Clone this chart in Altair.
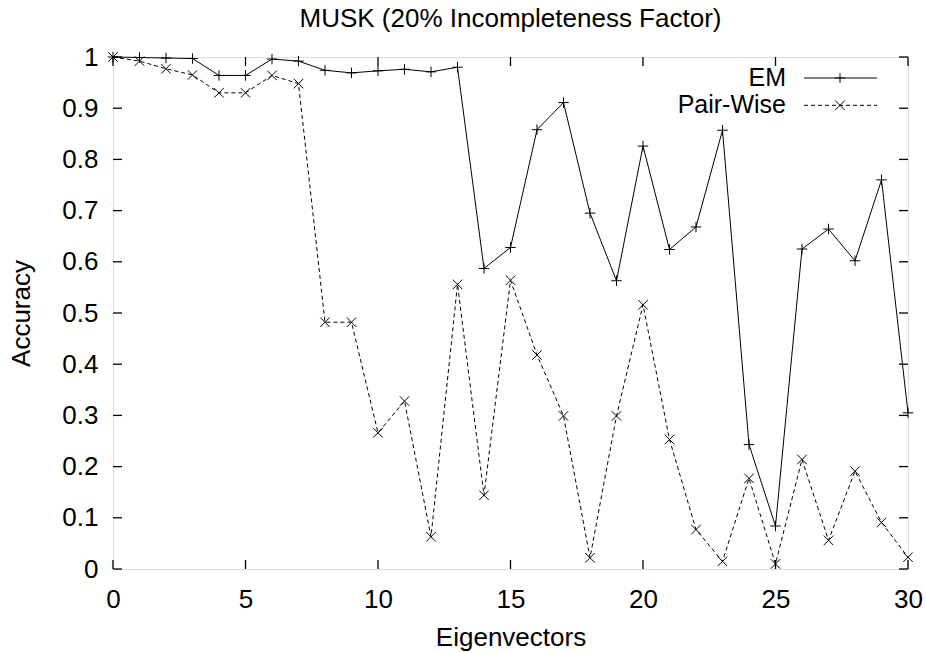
import altair as alt
import pandas as pd

# ---- data ----
eigenvectors = list(range(31))
em_acc = [1.0, 0.999, 0.998, 0.997, 0.964, 0.964, 0.996, 0.992, 0.974, 0.969,
          0.973, 0.976, 0.971, 0.980, 0.587, 0.628, 0.858, 0.911, 0.695, 0.563,
          0.826, 0.624, 0.668, 0.857, 0.243, 0.084, 0.625, 0.664, 0.602, 0.760,
          0.305]
pw_acc = [1.0, 0.992, 0.977, 0.965, 0.930, 0.930, 0.964, 0.948, 0.482, 0.482,
          0.266, 0.328, 0.063, 0.556, 0.144, 0.564, 0.418, 0.299, 0.022, 0.299,
          0.516, 0.253, 0.077, 0.015, 0.177, 0.010, 0.214, 0.056, 0.191, 0.091,
          0.023]
series_names = ["EM", "Pair-Wise"]
x_ticks = [0, 5, 10, 15, 20, 25, 30]
y_ticks = [0, 0.1, 0.2, 0.3, 0.4, 0.5, 0.6, 0.7, 0.8, 0.9, 1]
title_text = "MUSK (20% Incompleteness Factor)"
x_title = "Eigenvectors"
y_title = "Accuracy"

W, H = 795, 512
FONT = "Liberation Sans"
FS = 26
TICK = 9
PLUS = "M-1,0H1M0,-1V1"
CROSS = "M-1,-1L1,1M-1,1L1,-1"

df = pd.DataFrame({"x": eigenvectors, "em": em_acc, "pw": pw_acc})
xt = pd.DataFrame({"v": x_ticks})
yt = pd.DataFrame({"v": y_ticks})
leg_em = pd.DataFrame({"name": [series_names[0]]})
leg_pw = pd.DataFrame({"name": [series_names[1]]})

xs = alt.Scale(domain=[0, 30], nice=False, zero=False)
ys = alt.Scale(domain=[0, 1], nice=False, zero=False)

x_axis = alt.Axis(values=x_ticks, tickSize=0, domain=False, grid=False,
                  labelFont=FONT, labelFontSize=FS, labelColor="black",
                  labelPadding=17, labelFlush=False, labelOverlap=False,
                  title=x_title, titleFont=FONT, titleFontSize=FS,
                  titleFontWeight="normal", titleColor="black", titlePadding=12)
y_axis = alt.Axis(values=y_ticks, tickSize=0, domain=False, grid=False, format="~g",
                  labelFont=FONT, labelFontSize=FS, labelColor="black",
                  labelPadding=15, labelFlush=False, labelOverlap=False,
                  title=y_title, titleFont=FONT, titleFontSize=FS,
                  titleFontWeight="normal", titleColor="black", titlePadding=27)

base = alt.Chart(df)

em_line = base.mark_line(color="black", strokeWidth=1).encode(
    x=alt.X("x:Q", scale=xs, axis=x_axis),
    y=alt.Y("em:Q", scale=ys, axis=y_axis),
)
em_pts = base.mark_point(shape=PLUS, size=110, filled=False, color="black",
                         strokeWidth=1, opacity=1).encode(
    x=alt.X("x:Q", scale=xs), y=alt.Y("em:Q", scale=ys))
pw_line = base.mark_line(color="black", strokeWidth=1, strokeDash=[4, 3]).encode(
    x=alt.X("x:Q", scale=xs), y=alt.Y("pw:Q", scale=ys))
pw_pts = base.mark_point(shape=CROSS, size=90, filled=False, color="black",
                         strokeWidth=1, opacity=1).encode(
    x=alt.X("x:Q", scale=xs), y=alt.Y("pw:Q", scale=ys))

# inward mirrored ticks
tick_style = dict(color="black", strokeWidth=1.3)
xb = alt.Chart(xt).mark_rule(**tick_style).encode(
    x=alt.X("v:Q", scale=xs), y=alt.value(H), y2=alt.value(H - TICK))
xtop = alt.Chart(xt).mark_rule(**tick_style).encode(
    x=alt.X("v:Q", scale=xs), y=alt.value(0), y2=alt.value(TICK))
yl = alt.Chart(yt).mark_rule(**tick_style).encode(
    y=alt.Y("v:Q", scale=ys), x=alt.value(0), x2=alt.value(TICK))
yr = alt.Chart(yt).mark_rule(**tick_style).encode(
    y=alt.Y("v:Q", scale=ys), x=alt.value(W), x2=alt.value(W - TICK))

# legend (gnuplot style: label then sample)
LX_T, LX0, LX1, LXM = 673, 691, 764, 727
LY1, LY2 = 21, 48.3
LFS = 25
leg_text_em = alt.Chart(leg_em).mark_text(align="right", baseline="middle",
                                          font=FONT, fontSize=LFS, color="black").encode(
    text="name:N", x=alt.value(LX_T), y=alt.value(LY1))
leg_text_pw = alt.Chart(leg_pw).mark_text(align="right", baseline="middle",
                                          font=FONT, fontSize=LFS, color="black").encode(
    text="name:N", x=alt.value(LX_T), y=alt.value(LY2))
leg_line_em = alt.Chart(leg_em).mark_rule(color="black", strokeWidth=1).encode(
    x=alt.value(LX0), x2=alt.value(LX1), y=alt.value(LY1))
leg_line_pw = alt.Chart(leg_pw).mark_rule(color="black", strokeWidth=1,
                                          strokeDash=[4, 3]).encode(
    x=alt.value(LX0), x2=alt.value(LX1), y=alt.value(LY2))
leg_pt_em = alt.Chart(leg_em).mark_point(shape=PLUS, size=90, filled=False,
                                         color="black", strokeWidth=1, opacity=1).encode(
    x=alt.value(LXM), y=alt.value(LY1))
leg_pt_pw = alt.Chart(leg_pw).mark_point(shape=CROSS, size=90, filled=False,
                                         color="black", strokeWidth=1, opacity=1).encode(
    x=alt.value(LXM), y=alt.value(LY2))

chart = alt.layer(
    xb, xtop, yl, yr,
    em_line, pw_line, em_pts, pw_pts,
    leg_text_em, leg_text_pw, leg_line_em, leg_line_pw, leg_pt_em, leg_pt_pw,
).properties(
    width=W, height=H,
    title=alt.TitleParams(title_text, font=FONT, fontSize=FS, fontWeight="normal",
                          color="black", anchor="middle", offset=12),
    autosize=alt.AutoSizeParams(type="none"),
    padding={"left": 113, "top": 57, "right": 18, "bottom": 83},
).configure_view(
    stroke="black", strokeWidth=2, fill="white"
).configure(background="white")

chart.save("out.html", embed_options={"renderer": "svg", "actions": False})
